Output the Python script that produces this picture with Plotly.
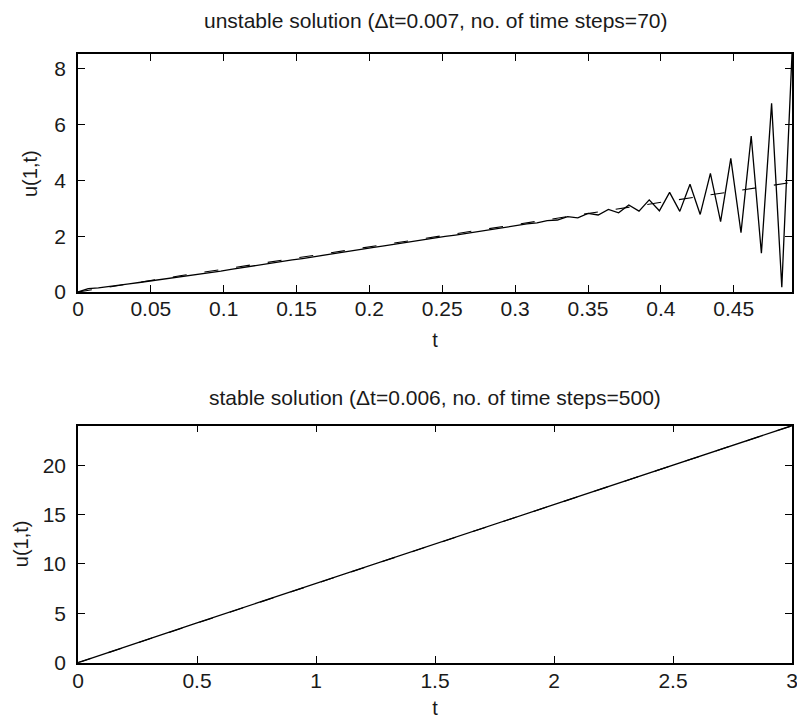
import plotly.graph_objects as go

# ---- unstable run: dt = 0.007, 70 steps ----
dt_unstable = 0.007
u_unstable = [
    0.00, 0.12, 0.15, 0.19, 0.24, 0.29, 0.34, 0.39, 0.43, 0.48,
    0.54, 0.59, 0.64, 0.70, 0.75, 0.81, 0.87, 0.92, 0.98, 1.04,
    1.09, 1.15, 1.20, 1.26, 1.31, 1.37, 1.43, 1.48, 1.54, 1.60,
    1.65, 1.71, 1.76, 1.82, 1.88, 1.93, 1.99, 2.04, 2.10, 2.16,
    2.21, 2.27, 2.32, 2.38, 2.44, 2.48, 2.56, 2.58, 2.70, 2.66,
    2.82, 2.76, 2.96, 2.84, 3.12, 2.90, 3.30, 2.91, 3.57, 2.89,
    3.86, 2.78, 4.25, 2.52, 4.79, 2.13, 5.59, 1.39, 6.76, 0.17,
    8.53,
]
t_unstable = [round(i * dt_unstable, 3) for i in range(len(u_unstable))]

# exact solution sampled on a coarser grid
t_exact_top = [0.0, 0.035, 0.07, 0.105, 0.14, 0.175, 0.21, 0.245,
               0.28, 0.315, 0.35, 0.385, 0.42, 0.455, 0.49]
u_exact_top = [0.00, 0.30, 0.58, 0.86, 1.14, 1.42, 1.70, 1.98,
               2.26, 2.53, 2.81, 3.09, 3.37, 3.65, 3.93]

# ---- stable run: dt = 0.006, 500 steps ----
t_stable = [0.0, 0.25, 0.5, 0.75, 1.0, 1.25, 1.5, 1.75, 2.0, 2.25, 2.5, 2.75, 3.0]
u_stable = [0.00, 2.04, 4.04, 6.03, 8.02, 10.02, 12.01, 14.01, 16.01, 18.00, 20.00, 22.00, 24.00]
u_exact_bottom = [0.00, 2.02, 4.02, 6.02, 8.01, 10.01, 12.01, 14.00, 16.00, 18.00, 20.00, 22.00, 24.00]

top_xticks = [0, 0.05, 0.1, 0.15, 0.2, 0.25, 0.3, 0.35, 0.4, 0.45]
top_xlabels = ["0", "0.05", "0.1", "0.15", "0.2", "0.25", "0.3", "0.35", "0.4", "0.45"]
top_yticks = [0, 2, 4, 6, 8]
bot_xticks = [0, 0.5, 1, 1.5, 2, 2.5, 3]
bot_xlabels = ["0", "0.5", "1", "1.5", "2", "2.5", "3"]
bot_yticks = [0, 5, 10, 15, 20]

title_top = "unstable solution (\u0394t=0.007, no. of time steps=70)"
title_bottom = "stable solution (\u0394t=0.006, no. of time steps=500)"

FONT = "Liberation Sans, Arial, sans-serif"
TXT = "#1a1a1a"
W, H = 797, 719

fig = go.Figure()
fig.add_trace(go.Scatter(x=t_exact_top, y=u_exact_top, mode="lines",
                         line=dict(color="black", width=1.1, dash="14px,18px"),
                         xaxis="x", yaxis="y", showlegend=False))
fig.add_trace(go.Scatter(x=t_unstable, y=u_unstable, mode="lines",
                         line=dict(color="black", width=1.3),
                         xaxis="x", yaxis="y", showlegend=False))
fig.add_trace(go.Scatter(x=t_stable, y=u_exact_bottom, mode="lines",
                         line=dict(color="black", width=1.1, dash="14px,18px"),
                         xaxis="x2", yaxis="y2", showlegend=False))
fig.add_trace(go.Scatter(x=t_stable, y=u_stable, mode="lines",
                         line=dict(color="black", width=1.3),
                         xaxis="x2", yaxis="y2", showlegend=False))

# plot-area placement in pixels
X0, X1 = 78, 792
TOP_Y0, TOP_Y1 = 54, 292
BOT_Y0, BOT_Y1 = 425.7, 662.7
xdom = [X0 / W, X1 / W]
top_dom = [1 - TOP_Y1 / H, 1 - TOP_Y0 / H]
bot_dom = [1 - BOT_Y1 / H, 1 - BOT_Y0 / H]

axis_common = dict(
    showline=True, linecolor="black", linewidth=1.5, mirror="ticks",
    ticks="inside", ticklen=7, tickwidth=1, tickcolor="black",
    showgrid=False, zeroline=False, ticklabeloverflow="allow",
    automargin=False,
    tickfont=dict(family=FONT, size=21, color=TXT),
    title_font=dict(family=FONT, size=20, color=TXT),
)


def label(text, x, y, size=20, angle=0):
    return dict(text=text, x=x / W, y=1 - y / H, xref="paper", yref="paper",
                showarrow=False, xanchor="center", yanchor="middle",
                textangle=angle, font=dict(family=FONT, size=size, color=TXT))


xc = (X0 + X1) / 2

fig.update_layout(
    width=W, height=H,
    margin=dict(l=0, r=0, t=0, b=0),
    paper_bgcolor="white", plot_bgcolor="white",
    xaxis=dict(domain=xdom, anchor="y", range=[0, t_unstable[-1]],
               tickvals=top_xticks, ticktext=top_xlabels,
               ticklabelstandoff=-3,
               title=dict(text="t", standoff=14), **axis_common),
    yaxis=dict(domain=top_dom, anchor="x", range=[0, max(u_unstable)],
               tickvals=top_yticks, ticklabelstandoff=6, **axis_common),
    xaxis2=dict(domain=xdom, anchor="y2", range=[0, 3],
                tickvals=bot_xticks, ticktext=bot_xlabels,
                ticklabelstandoff=-2,
                title=dict(text="t", standoff=20), **axis_common),
    yaxis2=dict(domain=bot_dom, anchor="x2", range=[0, 24],
                tickvals=bot_yticks, ticklabelstandoff=6, **axis_common),
    annotations=[
        label(title_top, xc, 20, size=21),
        label(title_bottom, xc, 397, size=21),
        label("u(1,t)", 30, (TOP_Y0 + TOP_Y1) / 2, angle=-90),
        label("u(1,t)", 21, (BOT_Y0 + BOT_Y1) / 2, angle=-90),
    ],
)

fig.write_html("out.html")
